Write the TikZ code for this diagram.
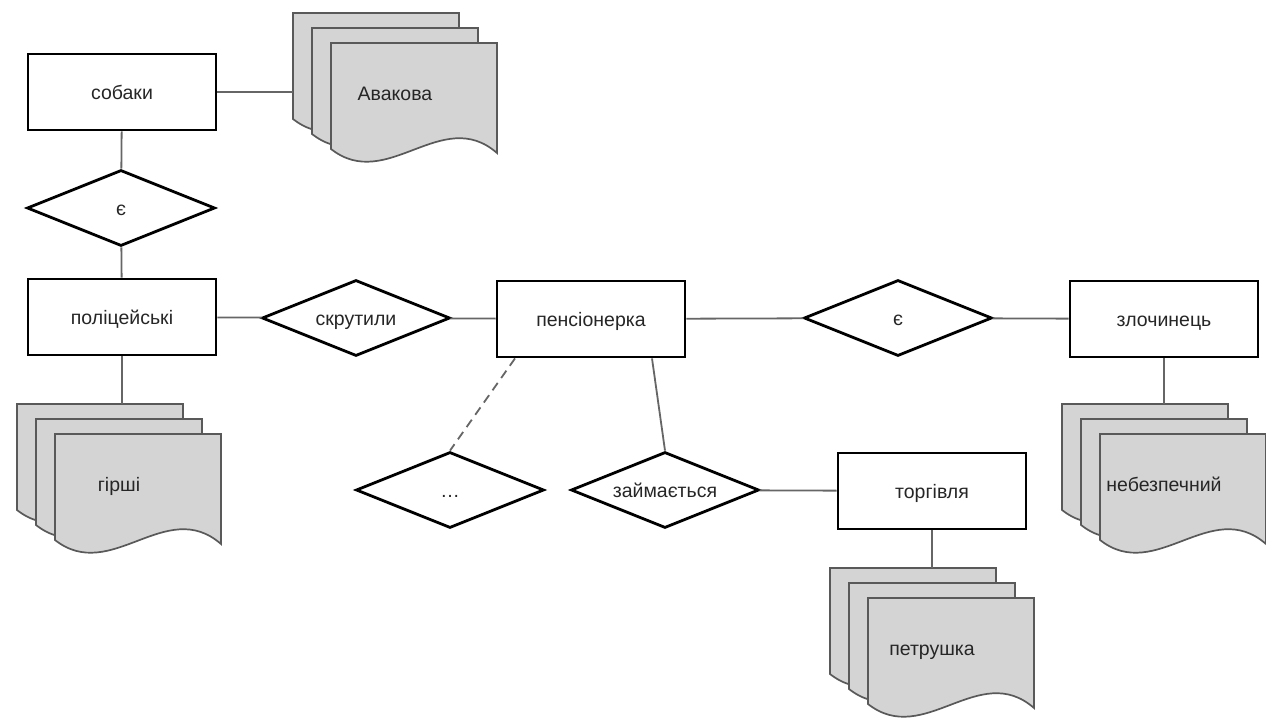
\documentclass[tikz,border=0pt]{standalone}
\usepackage{fontspec}
\setmainfont{Liberation Sans}
\usetikzlibrary{shapes.geometric}

\tikzset{
	label text/.style={text=black!85, text height=14pt, text depth=0pt},
	entity/.style={label text, draw, line width=2.8pt, rectangle, minimum width=188pt, minimum height=76pt, inner sep=0pt, fill=white},
	relation/.style={label text, draw, line width=2.8pt, diamond, aspect=2.4, minimum width=188pt, minimum height=76pt, inner sep=0pt, fill=white},
	link/.style={draw=black!60, line width=1.8pt},
	docpage/.style={draw=black!65, line width=1.7pt, fill=black!17},
	pics/docstack/.style={code={
		\foreach \dx/\dy in {0/0,19/15,38/30}
		{
			\path[docpage] (\dx,\dy) -- (\dx+166,\dy) -- (\dx+166,\dy+110)
				.. controls (\dx+111,\dy+62) and (\dx+56,\dy+150) .. (\dx,\dy+106) -- cycle;
		}
		\node[label text] (-txt) at (102,80) {#1};
		\coordinate (-top) at (83,0);
		\coordinate (-left) at (0,60);
	}}
}

\begin{document}
\begin{tikzpicture}[x=1pt, y=-1pt, font=\fontsize{19.5}{22}\selectfont]
			\useasboundingbox[fill=white] (0,0) rectangle (1266,726);
			
			\pic (av) at (293,13) {docstack={Авакова}};
			\pic (gr) at (17,404) {docstack={гірші}};
			\pic (nb) at (1062,404) {docstack={небезпечний}};
			\pic (pt) at (830,568) {docstack={петрушка}};
			
			\node[entity] (sob) at (122,92) {собаки};
			\node[relation] (ye1) at (121,208) {є};
			\node[entity] (pol) at (122,317) {поліцейські};
			\node[relation] (skr) at (356,318) {скрутили};
			\node[entity] (pens) at (591,319) {пенсіонерка};
			\node[relation] (ye2) at (898,318) {є};
			\node[entity] (zloch) at (1164,319) {злочинець};
			\node[relation] (dots) at (450,490) {…};
			\node[relation] (zaim) at (665,490) {займається};
			\node[entity] (torg) at (932,491) {торгівля};
			
			\foreach \a/\b in {sob/ye1, ye1/pol, pol/skr, skr/pens, pens/ye2, ye2/zloch, zaim/torg}
			{
				\path[link] (\a) -- (\b);
			}
			\path[link] ([xshift=61pt]pens.south) -- (zaim.north);
			\path[link, dashed, dash pattern=on 9pt off 6pt] ([xshift=-76pt]pens.south) -- (dots.north);
			\path[link] (sob.east) -- (sob.east -| av-left);
			\path[link] (pol.south) -- (pol.south |- gr-top);
			\path[link] (zloch.south) -- (zloch.south |- nb-top);
			\path[link] (torg.south) -- (torg.south |- pt-top);
			\end{tikzpicture}
\end{document}
